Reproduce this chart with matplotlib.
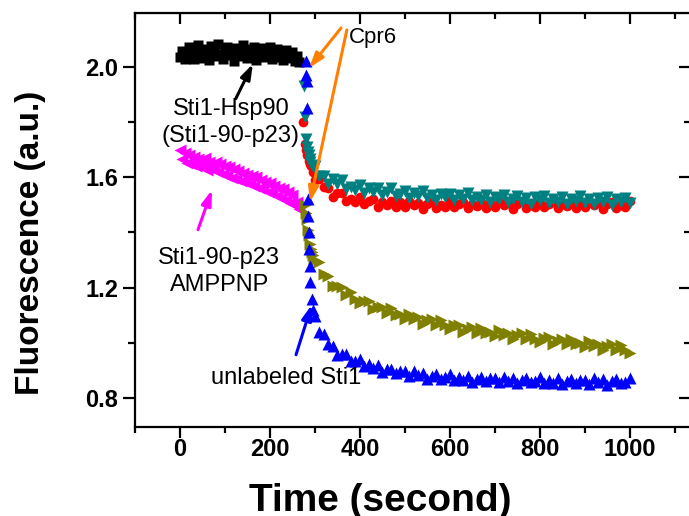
import numpy as np
import matplotlib
matplotlib.use("Agg")
import matplotlib.pyplot as plt
from matplotlib.ticker import MultipleLocator

plt.rcParams['font.family'] = ['Liberation Sans', 'DejaVu Sans']

# ---- data ----
# before Cpr6 addition (t = 0..265 s, every 5 s)
t_pre = np.arange(0, 266, 5)
black = [2.035, 2.058, 2.030, 2.050, 2.072, 2.040, 2.028, 2.062, 2.080, 2.045,
         2.033, 2.066, 2.052, 2.025, 2.075, 2.058, 2.038, 2.085, 2.048, 2.030,
         2.062, 2.074, 2.042, 2.055, 2.022, 2.070, 2.060, 2.040, 2.078, 2.050,
         2.032, 2.066, 2.046, 2.072, 2.026, 2.058, 2.042, 2.068, 2.036, 2.054,
         2.072, 2.030, 2.048, 2.064, 2.036, 2.052, 2.026, 2.060, 2.042, 2.032,
         2.056, 2.022, 2.040, 2.018]
magenta = [1.700, 1.665, 1.688, 1.652, 1.680, 1.648, 1.675, 1.640, 1.668, 1.660,
           1.638, 1.670, 1.628, 1.655, 1.645, 1.625, 1.656, 1.618, 1.648, 1.612,
           1.640, 1.606, 1.636, 1.598, 1.630, 1.594, 1.622, 1.588, 1.616, 1.584,
           1.610, 1.576, 1.606, 1.568, 1.600, 1.562, 1.592, 1.556, 1.584, 1.548,
           1.578, 1.542, 1.570, 1.534, 1.562, 1.526, 1.556, 1.518, 1.546, 1.508,
           1.536, 1.500, 1.510, 1.485]

# right after the addition (sparse points of the fast drop)
t_blue0 = [280, 281, 282, 283, 284, 285, 286, 287, 288, 290, 293, 296]
blue0 = [2.02, 1.97, 1.95, 1.85, 1.52, 1.46, 1.40, 1.34, 1.28, 1.22, 1.16, 1.12]
t_teal0 = [276, 278, 280, 282, 284, 286, 288, 290, 293, 296]
teal0 = [1.93, 1.82, 1.74, 1.71, 1.69, 1.68, 1.665, 1.655, 1.645, 1.64]
t_red0 = [274, 277, 280, 283, 286, 289, 292, 295]
red0 = [1.80, 1.72, 1.70, 1.68, 1.66, 1.65, 1.64, 1.62]
t_olive0 = [279, 281, 283, 285, 287, 289, 291, 293, 295, 297]
olive0 = [1.50, 1.47, 1.45, 1.41, 1.39, 1.36, 1.34, 1.33, 1.32, 1.30]

# slow phase (t = 300..1000 s, every 10 s)
t_post = np.arange(300, 1001, 10)
teal = [1.642, 1.605, 1.604, 1.577, 1.594, 1.575, 1.589, 1.557, 1.566, 1.553,
        1.571, 1.542, 1.560, 1.548, 1.560, 1.536, 1.547, 1.560, 1.534, 1.540,
        1.552, 1.526, 1.543, 1.531, 1.550, 1.525, 1.537, 1.518, 1.541, 1.530,
        1.541, 1.517, 1.536, 1.523, 1.543, 1.516, 1.528, 1.517, 1.537, 1.511,
        1.530, 1.520, 1.536, 1.510, 1.523, 1.531, 1.511, 1.524, 1.505, 1.529,
        1.516, 1.533, 1.508, 1.521, 1.511, 1.530, 1.504, 1.523, 1.515, 1.531,
        1.506, 1.520, 1.503, 1.525, 1.510, 1.528, 1.501, 1.522, 1.512, 1.526, 1.507]
red = [1.592, 1.595, 1.564, 1.561, 1.530, 1.542, 1.543, 1.515, 1.522, 1.512,
       1.530, 1.503, 1.513, 1.520, 1.493, 1.510, 1.500, 1.513, 1.491, 1.509,
       1.492, 1.513, 1.498, 1.507, 1.485, 1.504, 1.511, 1.488, 1.500, 1.494,
       1.515, 1.491, 1.503, 1.512, 1.487, 1.505, 1.496, 1.510, 1.489, 1.508,
       1.492, 1.513, 1.498, 1.507, 1.485, 1.504, 1.511, 1.488, 1.500, 1.494,
       1.515, 1.491, 1.503, 1.512, 1.487, 1.505, 1.496, 1.510, 1.489, 1.508,
       1.492, 1.513, 1.498, 1.507, 1.485, 1.504, 1.511, 1.488, 1.500, 1.494, 1.515]
blue = [1.096, 1.041, 1.033, 0.997, 0.990, 0.956, 0.959, 0.958, 0.934, 0.934,
        0.942, 0.915, 0.924, 0.909, 0.920, 0.896, 0.904, 0.907, 0.889, 0.897,
        0.897, 0.880, 0.898, 0.882, 0.891, 0.869, 0.881, 0.888, 0.870, 0.875,
        0.887, 0.864, 0.877, 0.866, 0.880, 0.859, 0.870, 0.876, 0.860, 0.871,
        0.873, 0.858, 0.877, 0.863, 0.873, 0.853, 0.867, 0.874, 0.857, 0.863,
        0.875, 0.853, 0.867, 0.856, 0.871, 0.851, 0.863, 0.868, 0.853, 0.864,
        0.867, 0.852, 0.871, 0.857, 0.868, 0.848, 0.862, 0.870, 0.853, 0.859, 0.872]
olive = [1.300, 1.292, 1.251, 1.243, 1.205, 1.207, 1.203, 1.174, 1.185, 1.160,
         1.143, 1.153, 1.150, 1.122, 1.129, 1.131, 1.109, 1.125, 1.102, 1.106,
         1.088, 1.106, 1.086, 1.094, 1.069, 1.081, 1.085, 1.064, 1.082, 1.063,
         1.051, 1.065, 1.066, 1.041, 1.051, 1.056, 1.037, 1.055, 1.035, 1.041,
         1.025, 1.045, 1.027, 1.037, 1.014, 1.028, 1.034, 1.014, 1.033, 1.015,
         1.004, 1.019, 1.021, 0.997, 1.008, 1.014, 0.995, 1.014, 0.994, 1.001,
         0.985, 1.005, 0.987, 0.997, 0.974, 0.988, 0.994, 0.974, 0.993, 0.975, 0.964]

BLUE = '#0000FF'
TEAL = '#008080'
RED = '#FF0000'
OLIVE = '#808000'
MAG = '#FF00FF'
ORANGE = '#FF8000'

fig = plt.figure(figsize=(6.89, 5.16), dpi=100)
ax = fig.add_axes([0.196, 0.1725, 0.806, 0.802])

ms = 7
ax.plot(t_pre, black, 's', color='black', ms=ms, mec='none')
ax.plot(t_pre, magenta, '<', color=MAG, ms=ms + 2, mec='none')
ax.plot(list(t_red0) + list(t_post), red0 + red, 'o', color=RED, ms=ms, mec='none')
ax.plot(list(t_teal0) + list(t_post), teal0 + teal, 'v', color=TEAL, ms=ms + 2, mec='none')
ax.plot(list(t_olive0) + list(t_post), olive0 + olive, '>', color=OLIVE, ms=ms + 2, mec='none')
ax.plot(list(t_blue0) + list(t_post), blue0 + blue, '^', color=BLUE, ms=ms + 1.5, mec='none')

# annotations
def arrow(tail, head, color):
    ax.annotate('', xy=head, xytext=tail,
                arrowprops=dict(arrowstyle='-|>,head_length=0.9,head_width=0.3',
                                color=color, lw=2.2, shrinkA=0, shrinkB=0))

ax.text(376, 2.105, 'Cpr6', fontsize=16, ha='left', va='center')
arrow((358, 2.141), (287, 1.996), ORANGE)
arrow((371, 2.134), (289, 1.511), ORANGE)

ax.text(113, 1.80, 'Sti1-Hsp90\n(Sti1-90-p23)', fontsize=17, ha='center', va='center',
        linespacing=1.3)
arrow((124, 1.885), (162, 2.011), 'black')

ax.text(87, 1.257, 'Sti1-90-p23\nAMPPNP', fontsize=17, ha='center', va='center',
        linespacing=1.3)
arrow((40, 1.41), (71, 1.554), MAG)

ax.text(236, 0.873, 'unlabeled Sti1', fontsize=17, ha='center', va='center')
arrow((258, 0.957), (293, 1.138), BLUE)

# axes styling
ax.set_xlim(-100, 1135)
ax.set_ylim(0.695, 2.195)
ax.xaxis.set_minor_locator(MultipleLocator(100))
ax.yaxis.set_minor_locator(MultipleLocator(0.2))
ax.set_xticks([0, 200, 400, 600, 800, 1000])
ax.set_yticks([0.8, 1.2, 1.6, 2.0])
ax.set_yticklabels(['0.8', '1.2', '1.6', '2.0'])

for s in ax.spines.values():
    s.set_linewidth(1.6)
ax.tick_params(which='both', direction='out', width=1.6, labelsize=17,
               top=False, right=False)
ax.tick_params(which='major', length=9)
ax.tick_params(which='minor', length=5)
ax.tick_params(axis='x', which='major', length=8, pad=0)
ax.tick_params(axis='x', which='minor', length=4)
ax.tick_params(axis='y', pad=3)
for lab in ax.get_xticklabels() + ax.get_yticklabels():
    lab.set_fontweight('bold')

# inward ticks on the top and right spines
sec_x = ax.secondary_xaxis('top')
sec_x.set_xticks([0, 200, 400, 600, 800, 1000])
sec_x.xaxis.set_minor_locator(MultipleLocator(100))
sec_x.tick_params(which='both', direction='in', width=1.6, labeltop=False)
sec_x.tick_params(which='major', length=8)
sec_x.tick_params(which='minor', length=4)
sec_y = ax.secondary_yaxis('right')
sec_y.set_yticks([0.8, 1.2, 1.6, 2.0])
sec_y.yaxis.set_minor_locator(MultipleLocator(0.2))
sec_y.tick_params(which='both', direction='in', width=1.6, labelright=False)
sec_y.tick_params(which='major', length=8)
sec_y.tick_params(which='minor', length=4)

ax.set_xlabel('Time (second)', fontsize=28, fontweight='bold', va='top')
ax.xaxis.set_label_coords(0.441, -0.135)
ax.set_ylabel('Fluorescence (a.u.)', fontsize=24, fontweight='bold', va='center')
ax.yaxis.set_label_coords(-0.188, 0.444)

fig.savefig('out.png', dpi=100)
